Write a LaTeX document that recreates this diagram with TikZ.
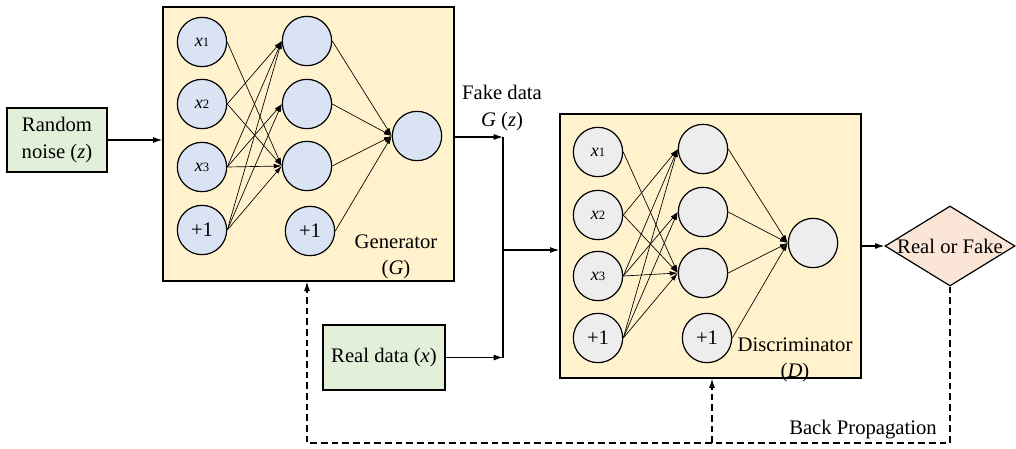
\documentclass[tikz,border=0pt]{standalone}
\usepackage{fontspec}
\setmainfont{Liberation Serif}
\usetikzlibrary{arrows.meta,shapes.geometric}

\definecolor{boxfill}{HTML}{FFF2CC}
\definecolor{genfill}{HTML}{DAE3F3}
\definecolor{disfill}{HTML}{EDEDED}
\definecolor{datafill}{HTML}{E2F0D9}
\definecolor{outfill}{HTML}{FBE5D6}

\tikzset{
  txt/.style={font=\fontsize{15.5}{20}\selectfont},
  netbox/.style={draw, fill=boxfill, line width=1pt, inner sep=0pt},
  databox/.style={draw, fill=datafill, line width=1pt, align=center, txt},
  gunit/.style={circle, draw, fill=genfill, line width=0.9pt, minimum size=37pt, inner sep=0pt, txt},
  dunit/.style={gunit, fill=disfill},
  link/.style={-{Latex[length=6pt,width=3.5pt]}, line width=0.5pt},
  flow/.style={-{Latex[length=7pt,width=4.5pt]}, line width=0.9pt},
  backflow/.style={flow, dash pattern=on 5pt off 3pt},
}
\newcommand{\xin}[1]{{\fontsize{13.5}{14}\selectfont\itshape x}{\fontsize{9.5}{10}\selectfont #1}}

\begin{document}
\begin{tikzpicture}[x=0.75pt, y=-0.75pt]
\useasboundingbox (0,0) rectangle (1016,449);

% the two network boxes
\node[netbox, minimum width=218.25pt, minimum height=205.5pt] (gen) at (308.5,144) {};
\node[netbox, minimum width=225.75pt, minimum height=198pt] (dis) at (710.5,246) {};

% generator units
\node[gunit] (gx1) at (202,42) {\xin{1}};
\node[gunit] (gx2) at (202,104) {\xin{2}};
\node[gunit] (gx3) at (202,167) {\xin{3}};
\node[gunit] (gb) at (202,230) {+1};
\node[gunit] (gh1) at (307,41) {};
\node[gunit] (gh2) at (307,104) {};
\node[gunit] (gh3) at (307,166) {};
\node[gunit] (gc) at (310,231) {+1};
\node[gunit] (go) at (417,136) {};
\node[txt, align=center] (glabel) at (396,257) {Generator\\(\textit{G})};

\draw[link] (gx1.east) -- (gh3.west);
\draw[link] (gx2.east) -- (gh1.west);
\draw[link] (gx2.east) -- (gh3.west);
\draw[link] (gx3.east) -- (gh1.west);
\draw[link] (gx3.east) -- (gh2.west);
\draw[link] (gx3.east) -- (gh3.west);
\draw[link] (gb.east) -- (gh1.west);
\draw[link] (gb.east) -- (gh2.west);
\draw[link] (gb.east) -- (gh3.west);
\draw[link] (gh1.east) -- (go.west);
\draw[link] (gh2.east) -- (go.west);
\draw[link] (gh3.east) -- (go.west);
\draw[link] (gc.east) -- (go.west);

% discriminator units
\node[dunit] (dx1) at (598,152) {\xin{1}};
\node[dunit] (dx2) at (598,215) {\xin{2}};
\node[dunit] (dx3) at (598,276) {\xin{3}};
\node[dunit] (db) at (598,338) {+1};
\node[dunit] (dh1) at (703,149) {};
\node[dunit] (dh2) at (703,212) {};
\node[dunit] (dh3) at (703,273) {};
\node[dunit] (dc) at (707,338) {+1};
\node[dunit] (dout) at (813,243) {};
\node[txt, align=center] (dlabel) at (795,360) {Discriminator\\(\textit{D})};

\draw[link] (dx1.east) -- (dh3.west);
\draw[link] (dx2.east) -- (dh1.west);
\draw[link] (dx2.east) -- (dh3.west);
\draw[link] (dx3.east) -- (dh1.west);
\draw[link] (dx3.east) -- (dh2.west);
\draw[link] (dx3.east) -- (dh3.west);
\draw[link] (db.east) -- (dh1.west);
\draw[link] (db.east) -- (dh2.west);
\draw[link] (db.east) -- (dh3.west);
\draw[link] (dh1.east) -- (dout.west);
\draw[link] (dh2.east) -- (dout.west);
\draw[link] (dh3.east) -- (dout.west);
\draw[link] (dc.east) -- (dout.west);

% data and decision
\node[databox, minimum width=75pt, minimum height=48pt] (noise) at (57,140) {Random\\noise (\textit{z})};
\node[databox, minimum width=91.5pt, minimum height=48.75pt] (real) at (384,357.5) {Real data (\textit{x})};
\node[draw, diamond, fill=outfill, minimum width=97.5pt, minimum height=60pt, inner sep=0pt, line width=0.9pt, txt] (rf) at (950,246) {\makebox[0pt]{Real or Fake}};
\node[txt, align=center] (fake) at (502,108) {Fake data\\\textit{G} (\textit{z})};
\node[txt] (bplabel) at (863,430) {Back Propagation};

\coordinate (j1) at (503,137);
\coordinate (j2) at (503,357.5);
\coordinate (j3) at (503,250);
\coordinate (bl) at (307,443);
\coordinate (br) at (712,443);

\draw[flow] (noise.east) -- (noise.east -| gen.west);
\draw[flow] (gen.east |- j1) -- (j1);
\draw[line width=0.9pt] (j1) -- (j2);
\draw[flow] (real.east) -- (j2);
\draw[flow] (j3) -- (j3 -| dis.west);
\draw[flow] (dis.east |- rf) -- (rf.west);
\draw[backflow] (rf.south) |- (bl) -- (bl |- gen.south);
\draw[backflow] (br) -- (br |- dis.south);
\end{tikzpicture}
\end{document}
